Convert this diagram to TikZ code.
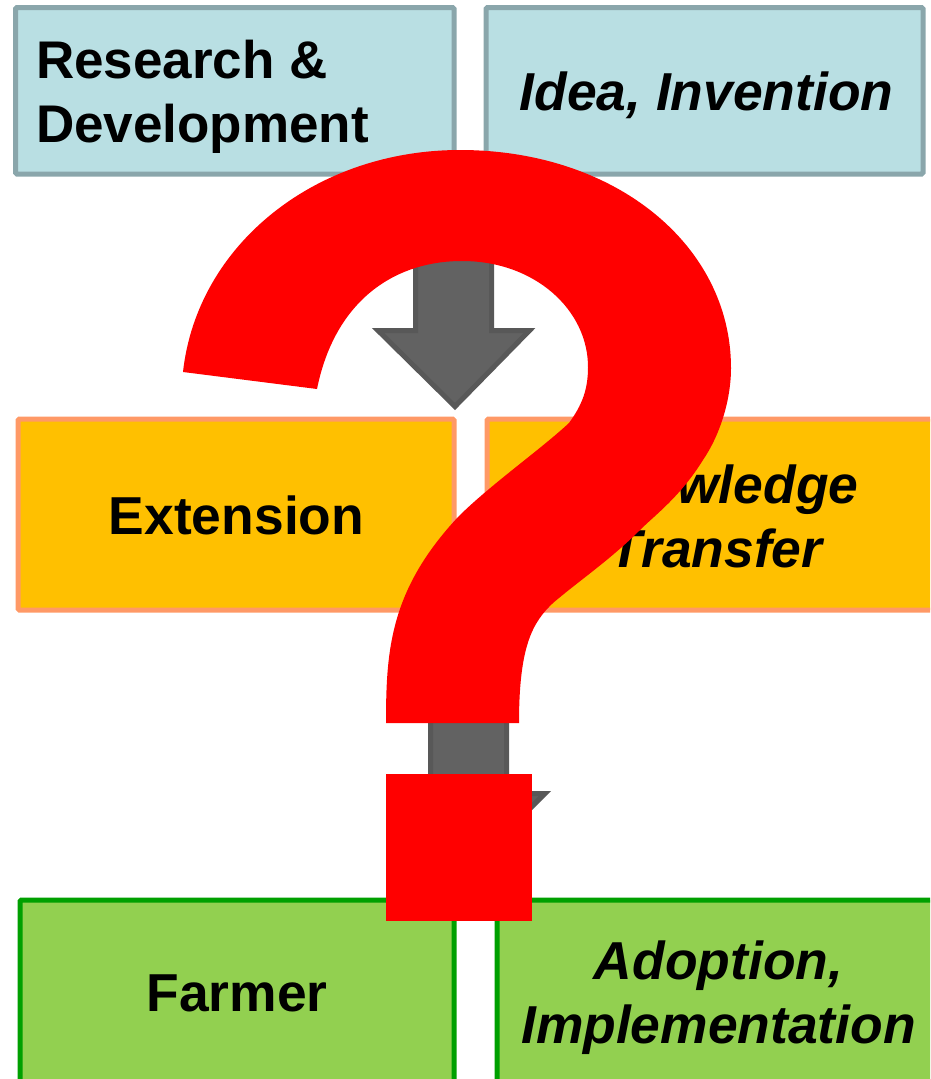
\documentclass[tikz,border=0pt]{standalone}
\usepackage{fontspec}
\setmainfont{Liberation Sans}
\definecolor{bluefill}{HTML}{B9DFE3}
\definecolor{blueline}{HTML}{8AA6AB}
\definecolor{orangefill}{HTML}{FFC000}
\definecolor{orangeline}{HTML}{FF9966}
\definecolor{greenfill}{HTML}{92D050}
\definecolor{greenline}{HTML}{00A000}
\definecolor{arrowfill}{HTML}{626262}
\definecolor{arrowline}{HTML}{585858}
\tikzset{
  boxbase/.style={rectangle,line width=5pt,rounded corners=1.5pt,inner sep=0pt,align=center,text=black,
    font=\fontsize{53.4}{64}\selectfont\bfseries},
  boxtext/.style={inner sep=0pt,text=black,align=center,font=\fontsize{53.4}{64}\selectfont\bfseries},
  bluebox/.style={boxbase,draw=blueline,fill=bluefill,minimum height=166.5pt},
  orangebox/.style={boxbase,draw=orangeline,fill=orangefill,minimum height=191pt},
  greenbox/.style={boxbase,draw=greenline,fill=greenfill},
  blockarrow/.style={draw=arrowline,fill=arrowfill,line width=5pt,line join=miter},
  redmark/.style={fill=red,draw=none}
}
\begin{document}
\begin{tikzpicture}[x=1pt,y=-1pt]
\useasboundingbox (0,0) rectangle (930,1079);
\clip (0,0) rectangle (930,1079);
% boxes
\node[bluebox,minimum width=438.5pt] (rd) at (234.75,90.75) {};
\node[bluebox,minimum width=437pt] (idea) at (704.5,90.75) {};
\node[orangebox,minimum width=436pt] (ext) at (236,514.5) {};
\node[orangebox,minimum width=462pt] (kt) at (718,514.5) {};
\node[greenbox,minimum width=434pt,minimum height=186pt] (farmer) at (237,993) {Farmer};
\node[greenbox,minimum width=443pt,minimum height=195pt] (adopt) at (718.5,997.5) {\itshape Adoption,\\\itshape Implementation};
% box texts
\node[boxtext,align=left,font=\fontsize{53}{64}\selectfont\bfseries] (rdtext) at (202.5,96.5) {Research \&\\Development};
\node[boxtext] (ideatext) at (706.5,95.5) {\itshape Idea, Invention};
\node[boxtext] (exttext) at (236.5,515.5) {Extension};
\node[boxtext] (kttext) at (716,516.5) {\itshape Knowledge\\\itshape Transfer};
% block arrows between the rows
\draw[blockarrow] (415.5,240) -- (491.5,240) -- (491.5,330.5) -- (529.5,330.5) -- (455,406.5) -- (378,330.5) -- (415.5,330.5) -- cycle;
\draw[blockarrow] (430.5,680) -- (506.5,680) -- (506.5,793.5) -- (545,793.5) -- (468.5,870) -- (392,793.5) -- (430.5,793.5) -- cycle;
% question mark
\fill[redmark] (183,372)
  .. controls (197,245) and (315,150) .. (460,150)
  .. controls (615,150) and (731,245) .. (731,368)
  .. controls (731,400) and (720,435) .. (703,460)
  .. controls (680,497) and (655,515) .. (640,530)
  .. controls (610,560) and (580,580) .. (553,603)
  .. controls (533,622) and (519,645) .. (519,723)
  -- (386,723)
  .. controls (386,650) and (390,590) .. (458,517)
  .. controls (490,485) and (540,450) .. (569,423)
  .. controls (582,405) and (588,390) .. (588,367)
  .. controls (588,310) and (535,261) .. (462,261)
  .. controls (395,261) and (335,300) .. (317,389)
  -- cycle;
\fill[redmark] (386,774) rectangle (532,921);
\end{tikzpicture}
\end{document}
